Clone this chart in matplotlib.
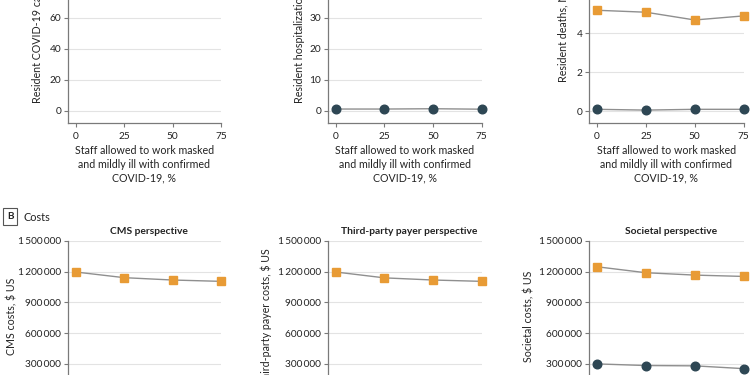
import matplotlib
matplotlib.use("Agg")
import matplotlib.pyplot as plt
from matplotlib.ticker import FuncFormatter

plt.rcParams['font.family'] = ['Lato', 'DejaVu Sans']

W, H = 750, 375

# ---------------- data ----------------
staff_pct = [0, 25, 50, 75]

# Panel A (outcomes); values above the visible crop are estimates
cases_orange = [96, 95, 93, 94]
cases_teal = [84, 83, 82, 83]
hosp_orange = [44, 43, 42, 42]
hosp_teal = [0.6, 0.6, 0.7, 0.55]
deaths_orange = [5.19, 5.09, 4.69, 4.90]
deaths_teal = [0.09, 0.05, 0.09, 0.09]

# Panel B (costs)
cms_orange = [1195000, 1140000, 1117000, 1104000]
cms_teal = [60000, 58000, 57000, 55000]
tpp_orange = [1195000, 1138000, 1117000, 1104000]
tpp_teal = [62000, 60000, 59000, 57000]
soc_orange = [1246000, 1188000, 1165000, 1152000]
soc_teal = [300000, 284000, 281000, 254000]

top_yticks = [[0, 20, 40, 60, 80, 100], [0, 10, 20, 30, 40, 50], [0, 2, 4, 6]]
top_ylims = [(-8, 100), (-4, 50), (-0.63, 6)]
top_ylabels = ["Resident COVID-19 cases, No.", "Resident hospitalizations, No.",
               "Resident deaths, No."]
cost_yticks = [0, 300000, 600000, 900000, 1200000, 1500000]
cost_titles = ["CMS perspective", "Third-party payer perspective", "Societal perspective"]
cost_ylabels = ["CMS costs, $ US", "Third-party payer costs, $ US", "Societal costs, $ US"]
xticks = [0, 25, 50, 75]
xlabel = "Staff allowed to work masked\nand mildly ill with confirmed\nCOVID-19, %"

ORANGE = "#E89B35"
TEAL = "#2E4754"
LINE = "#8f8f8f"
SPINE = "#7a7a7a"
GRID = "#e3e3e3"
TXT = "#222222"
FS = 7.7
TICK_FS = 7.3


def px_axes(left, top, width, height):
    return fig.add_axes([left / W, 1 - (top + height) / H, width / W, height / H])


def style(ax):
    for s in ("top", "right"):
        ax.spines[s].set_visible(False)
    for s in ("left", "bottom"):
        ax.spines[s].set_color(SPINE)
        ax.spines[s].set_linewidth(0.9)
    ax.tick_params(axis="both", colors=SPINE, length=3, width=0.8, labelsize=TICK_FS,
                   labelcolor=TXT, pad=2)
    ax.tick_params(axis="x", pad=3)
    ax.grid(axis="y", color=GRID, lw=0.8)
    ax.set_axisbelow(True)
    ax.set_xlim(-4, 75)
    ax.set_xticks(xticks)


def series(ax, x, y, marker, color, ms):
    ax.plot(x, y, color=LINE, lw=1.0, marker=marker, ms=ms, mfc=color, mec=color,
            clip_on=False, zorder=3)


fig = plt.figure(figsize=(W / 100, H / 100), dpi=100)

lefts = [68, 328, 589.3]
widths = [153, 153.8, 154.2]
top_label_x = [36.7, 299.3, 563.3]
top_label_bottom = [103.3, 103.3, 81.7]

top_data = [(cases_orange, cases_teal), (hosp_orange, hosp_teal), (deaths_orange, deaths_teal)]
for i in range(3):
    lo, hi = top_ylims[i]
    pxu = {0: 1.55, 1: 3.1, 2: 19.42}[i]
    height = (hi - lo) * pxu
    ax = px_axes(lefts[i], 123.3 - height, widths[i], height)
    style(ax)
    ax.set_ylim(lo, hi)
    ax.set_yticks(top_yticks[i])
    o, t = top_data[i]
    series(ax, staff_pct, o, "s", ORANGE, 5.6)
    series(ax, staff_pct, t, "o", TEAL, 6.2)
    ax.set_xlabel(xlabel, fontsize=FS, color=TXT, labelpad=3.5, linespacing=1.3)
    fig.text(top_label_x[i] / W, 1 - top_label_bottom[i] / H, top_ylabels[i],
             rotation=90, ha="center", va="bottom", fontsize=FS, color=TXT)

fmt = FuncFormatter(lambda v, p: f"{int(v):,}".replace(",", "\u2009"))
cost_data = [(cms_orange, cms_teal), (tpp_orange, tpp_teal), (soc_orange, soc_teal)]
cost_label_x = [12.3, 266, 529]
for i in range(3):
    height = 5 * 30.8
    ax = px_axes(lefts[i], 240.7, widths[i], height)
    style(ax)
    ax.set_ylim(0, 1500000)
    ax.set_yticks(cost_yticks)
    ax.yaxis.set_major_formatter(fmt)
    o, t = cost_data[i]
    series(ax, staff_pct, o, "s", ORANGE, 5.6)
    series(ax, staff_pct, t, "o", TEAL, 6.2)
    ax.set_title(cost_titles[i], fontsize=7.4, fontweight="bold", color=TXT,
                 x=0.527, pad=5)
    fig.text(cost_label_x[i] / W, 1 - 316.5 / H, cost_ylabels[i],
             rotation=90, ha="center", va="center", fontsize=FS, color=TXT)

fig.text(10.2 / W, 1 - 216.3 / H, "B", fontsize=7.2, fontweight="bold", color=TXT,
         ha="center", va="center",
         bbox=dict(boxstyle="square,pad=0.4", fc="white", ec="#555555", lw=0.8))
fig.text(24 / W, 1 - 217.3 / H, "Costs", fontsize=7.8, color=TXT, ha="left", va="center")

fig.savefig("out.png", dpi=100)
